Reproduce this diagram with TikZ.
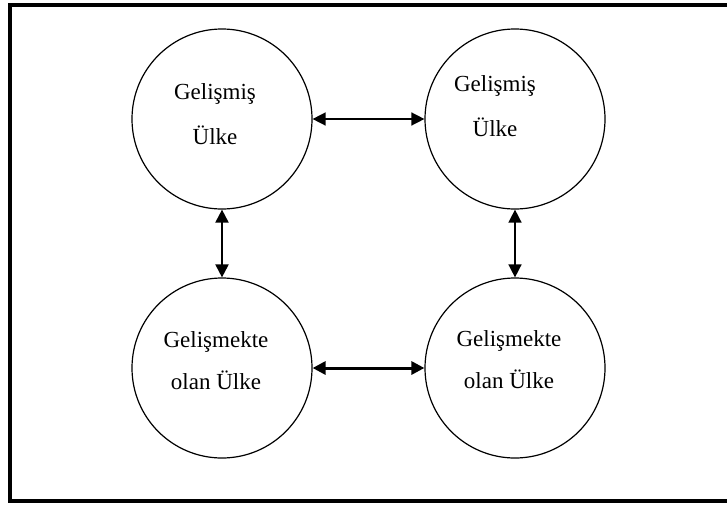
\documentclass[tikz,border=0pt]{standalone}
\usepackage{fontspec}
\setmainfont{Liberation Serif}
\usepackage{tikz}
\usetikzlibrary{arrows.meta}

\begin{document}
\begin{tikzpicture}[x=1pt,y=-1pt]
  \tikzstyle{country}=[circle,draw,line width=1.2pt,inner sep=0pt,minimum size=180]
  \tikzstyle{countrylabel}=[align=center,font={\fontsize{23}{45}\selectfont}]
  \tikzstyle{tie}=[{Triangle[length=13pt,width=13pt]}-{Triangle[length=13pt,width=13pt]}]
  \useasboundingbox (0,0) rectangle (727,506);
  \draw[line width=4pt] (727,5) -- (10,5) -- (10,501) -- (727,501);
  \node (devA) at (222,119) [country] {};
  \node (devB) at (515,119) [country] {};
  \node (devC) at (222,368) [country] {};
  \node (devD) at (515,368) [country] {};
  \node (txtA) at (215,114) [countrylabel] {Gelişmiş\\Ülke};
  \node (txtB) at (495,106) [countrylabel] {Gelişmiş\\Ülke};
  \node (txtC) at (216,361) [countrylabel,font={\fontsize{23}{42}\selectfont}] {Gelişmekte\\olan Ülke};
  \node (txtD) at (509,360) [countrylabel,font={\fontsize{23}{42}\selectfont}] {Gelişmekte\\olan Ülke};
  \draw[tie,line width=1.5pt] (devA) -- (devB);
  \draw[tie,line width=3pt] (devC) -- (devD);
  \draw[tie,line width=2pt] (devA) -- (devC);
  \draw[tie,line width=1.5pt] (devB) -- (devD);
\end{tikzpicture}
\end{document}
